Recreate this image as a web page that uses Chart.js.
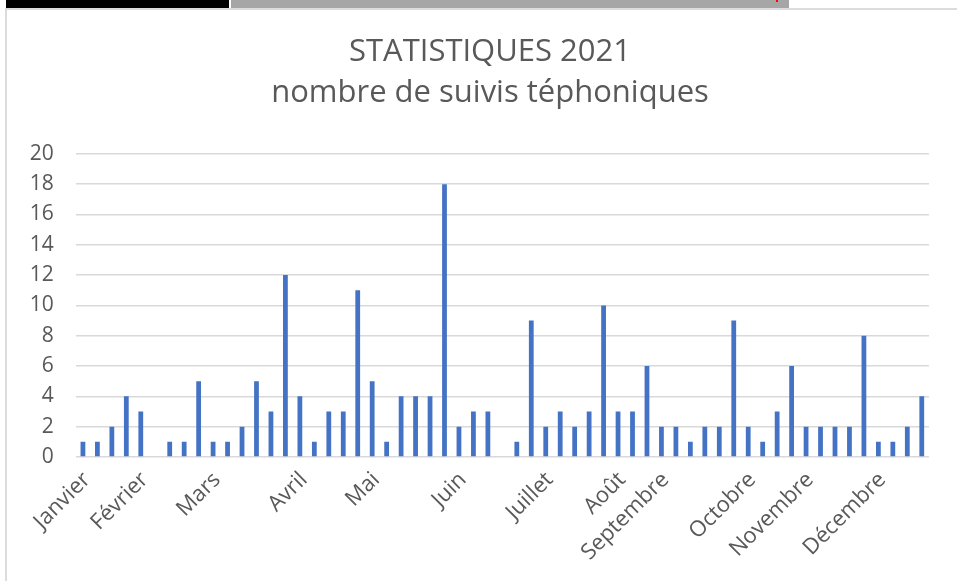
<!DOCTYPE html>
<html>
<head>
<meta charset="utf-8">
<script src="https://cdn.jsdelivr.net/npm/chart.js@4/dist/chart.umd.min.js"></script>
<style>
  body{margin:0;background:#fff;width:957px;height:581px;overflow:hidden;position:relative}
  .blk{position:absolute;left:6px;top:0;width:223px;height:8px;background:#000}
  .gry{position:absolute;left:231px;top:0;width:558px;height:8px;background:#a6a6a6}
  .red{position:absolute;left:776px;top:0;width:2px;height:2px;background:#f00}
  #box{position:absolute;left:5px;top:8px;width:952px;height:573px;box-sizing:border-box;
       border-left:2px solid #dcdcdc;border-top:2px solid #dcdcdc}
  #wrap{position:absolute;left:0;top:0;width:950px;height:571px}
</style>
</head>
<body>
<div class="blk"></div><div class="gry"></div><div class="red"></div>
<div id="box"><div id="wrap"><canvas id="c"></canvas></div></div>
<script>
// une barre par semaine, le nom du mois sur la première semaine
const weeks=[
  "Janvier","","","","Février","","","","","Mars","","","","","","Avril","","","","","Mai","","","","","","Juin","","","","","","Juillet","","","","","Août","","","Septembre","","","","","","Octobre","","","","Novembre","","","","","Décembre","","",""
];
const suivis=[
  1,1,2,4,3,null,1,1,5,1,1,2,5,3,12,4,1,3,3,11,
  5,1,4,4,4,18,2,3,3,null,1,9,2,3,2,3,10,3,3,6,
  2,2,1,2,2,9,2,1,3,6,2,2,2,2,8,1,1,2,4
];
const yTicks=[0,2,4,6,8,10,12,14,16,18,20];

const grey="#595959";
const font="'Open Sans', sans-serif";

// le titre Excel est centré un peu plus à droite que la zone du graphique
const titleShift={id:"titleShift",afterLayout(ch){ch.titleBlock.left+=44;}};

new Chart(c,{
  type:"bar",
  data:{
    labels:weeks,
    datasets:[{
      data:suivis,
      backgroundColor:"#4472C4",
      categoryPercentage:1,
      barPercentage:0.33
    }]
  },
  plugins:[titleShift],
  options:{
    responsive:true,
    maintainAspectRatio:false,
    animation:false,
    layout:{padding:{left:0,right:28,top:0,bottom:0}},
    plugins:{
      legend:{display:false},
      tooltip:{enabled:false},
      title:{
        display:true,
        text:["STATISTIQUES 2021","nombre de suivis téphoniques"],
        color:grey,
        font:{family:font,size:31,weight:"normal",lineHeight:1.32},
        padding:{top:22,bottom:40}
      }
    },
    scales:{
      x:{
        grid:{display:false},
        border:{display:false},
        ticks:{
          color:grey,font:{family:font,size:22},
          autoSkip:false,maxRotation:45,minRotation:45,padding:2,labelOffset:4
        },
        afterFit:s=>{s.height=124;}
      },
      y:{
        min:0,max:20,
        afterBuildTicks:s=>{s.ticks=yTicks.map(v=>({value:v}));},
        grid:{color:"#d9d9d9",lineWidth:1.5,drawTicks:false},
        border:{display:false},
        ticks:{color:grey,font:{family:font,size:21},padding:22},
        afterFit:s=>{s.width=68.7;}
      }
    }
  }
});
</script>
</body>
</html>
